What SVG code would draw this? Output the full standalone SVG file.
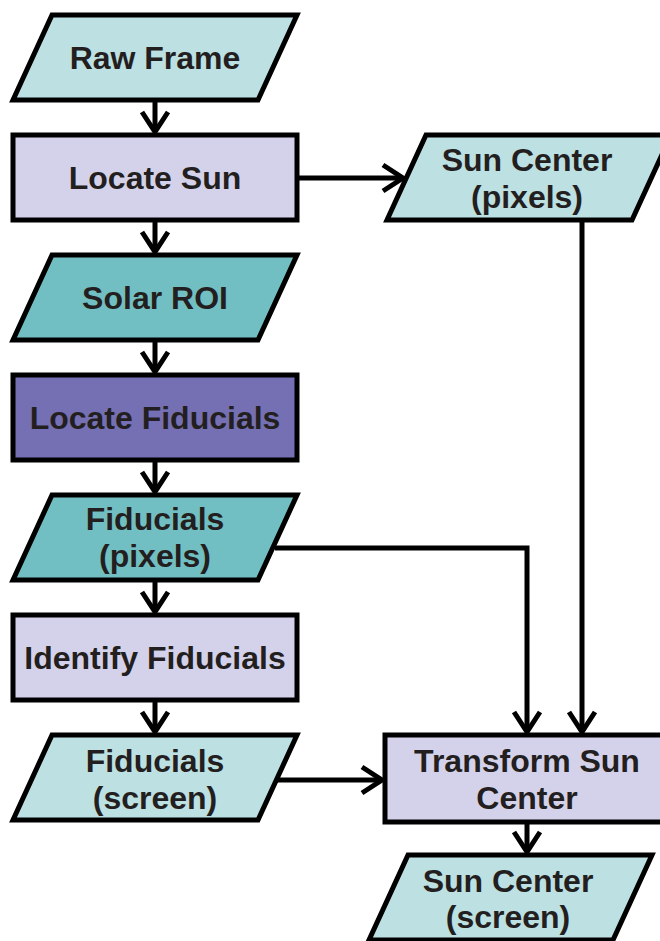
<svg xmlns="http://www.w3.org/2000/svg" width="660" height="941" viewBox="0 0 660 941">
<style>
.shape{stroke:#000;stroke-width:5;stroke-linejoin:miter}
.data{fill:#bde0e3}
.dataDark{fill:#72bfc3}
.proc{fill:#d4d2ea}
.procDark{fill:#7470b3}
text{font-family:"Liberation Sans",Arial,sans-serif;font-weight:bold;font-size:32px;fill:#231f20;text-anchor:middle}
.conn{fill:none;stroke:#000;stroke-width:5;stroke-linejoin:miter}
</style>
<defs>
<marker id="arr" markerUnits="userSpaceOnUse" markerWidth="30" markerHeight="34" viewBox="-24 -17 30 34" refX="0" refY="0" orient="auto">
<path d="M-20,-13 L0,0 L-20,13" fill="none" stroke="#000" stroke-width="5" stroke-linejoin="miter"/>
</marker>
</defs>
<rect width="660" height="941" fill="#fff"/>
<g id="connectors">
<path class="conn" d="M155,100 V132" marker-end="url(#arr)"/>
<path class="conn" d="M155,220 V252" marker-end="url(#arr)"/>
<path class="conn" d="M155,340 V372" marker-end="url(#arr)"/>
<path class="conn" d="M155,460 V492" marker-end="url(#arr)"/>
<path class="conn" d="M155,580 V612" marker-end="url(#arr)"/>
<path class="conn" d="M155,700 V732" marker-end="url(#arr)"/>
<path class="conn" d="M298,178 H403" marker-end="url(#arr)"/>
<path class="conn" d="M582,220 V732" marker-end="url(#arr)"/>
<path class="conn" d="M275,548 H527 V732" marker-end="url(#arr)"/>
<path class="conn" d="M276,780 H382" marker-end="url(#arr)"/>
<path class="conn" d="M527,822 V852" marker-end="url(#arr)"/>
</g>
<g id="raw-frame">
<polygon class="shape data" points="52,15 297,15 258,100 13,100"/>
<text x="155" y="69">Raw Frame</text>
</g>
<g id="locate-sun">
<rect class="shape proc" x="13" y="135" width="284" height="85"/>
<text x="155" y="189">Locate Sun</text>
</g>
<g id="sun-center-pixels">
<polygon class="shape data" points="426,135 671,135 632,220 387,220"/>
<text x="527" y="171">Sun Center</text>
<text x="527" y="208">(pixels)</text>
</g>
<g id="solar-roi">
<polygon class="shape dataDark" points="52,255 297,255 258,340 13,340"/>
<text x="155" y="309">Solar ROI</text>
</g>
<g id="locate-fiducials">
<rect class="shape procDark" x="13" y="375" width="284" height="85"/>
<text x="155" y="429">Locate Fiducials</text>
</g>
<g id="fiducials-pixels">
<polygon class="shape dataDark" points="52,495 297,495 258,580 13,580"/>
<text x="155" y="530">Fiducials</text>
<text x="155" y="567">(pixels)</text>
</g>
<g id="identify-fiducials">
<rect class="shape proc" x="13" y="615" width="284" height="85"/>
<text x="155" y="669">Identify Fiducials</text>
</g>
<g id="fiducials-screen">
<polygon class="shape data" points="52,735 297,735 258,820 13,820"/>
<text x="155" y="772">Fiducials</text>
<text x="155" y="809">(screen)</text>
</g>
<g id="transform-sun-center">
<rect class="shape proc" x="385" y="735" width="284" height="87"/>
<text x="527" y="772">Transform Sun</text>
<text x="527" y="809">Center</text>
</g>
<g id="sun-center-screen">
<polygon class="shape data" points="408,855 652,855 613,940 369,940"/>
<text x="508" y="892">Sun Center</text>
<text x="508" y="928">(screen)</text>
</g>
</svg>
